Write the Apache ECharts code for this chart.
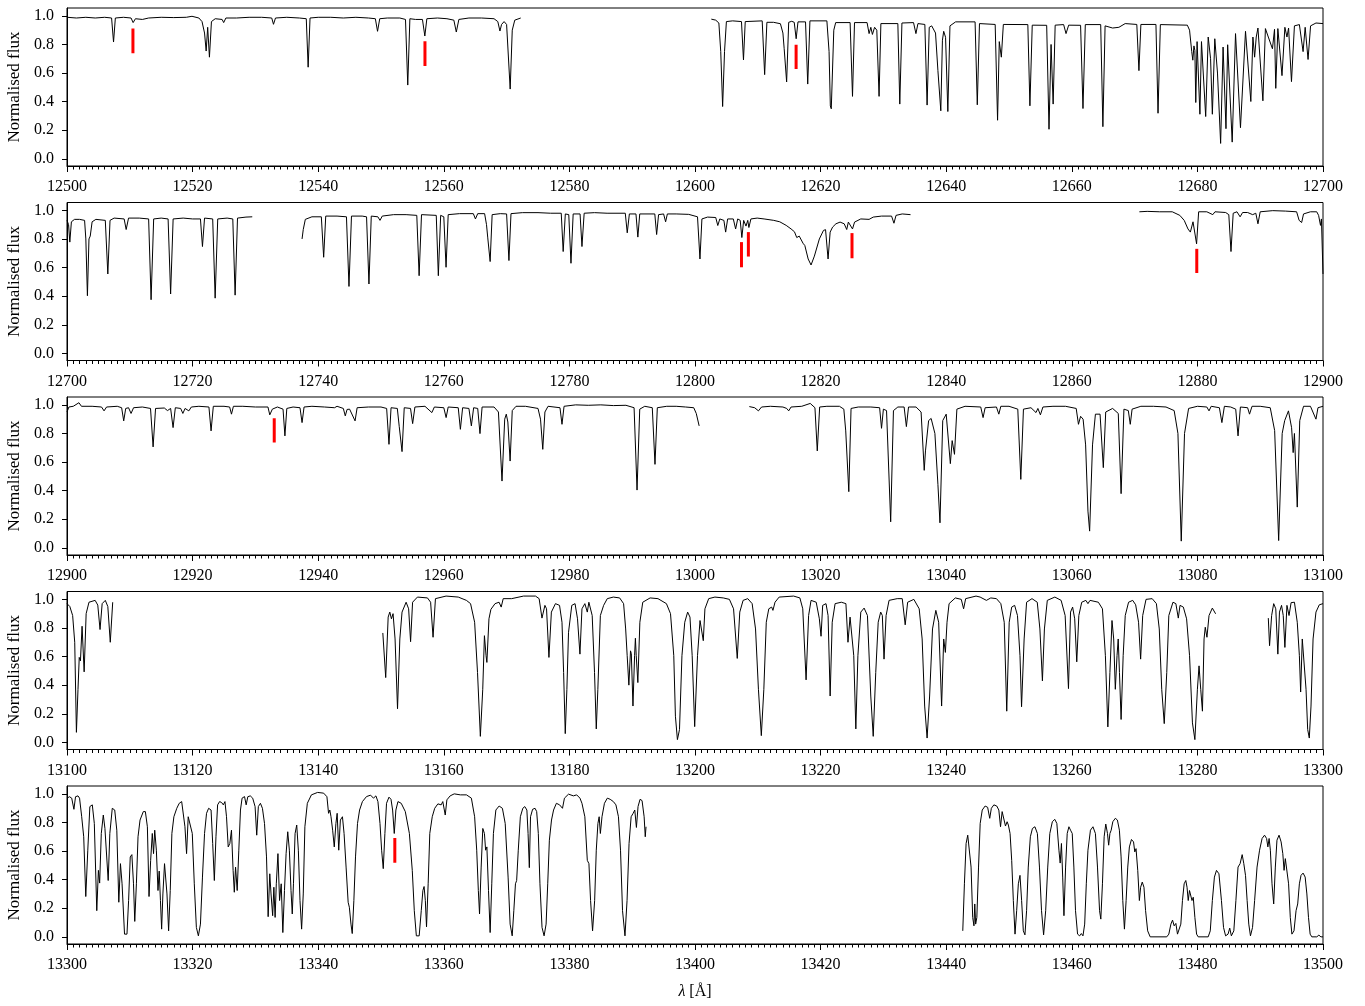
<!DOCTYPE html>
<html>
<head>
<meta charset="utf-8">
<script src="https://cdn.jsdelivr.net/npm/echarts@6/dist/echarts.min.js"></script>
<style>
html,body{margin:0;padding:0;background:#fff}
#chart{width:1365px;height:1006px}
</style>
</head>
<body>
<div id="chart"></div>
<script>
// Normalised spectrum, five wavelength windows of 200 Å each: [wavelength (Å), flux]

// 12500 - 12700
const spec1a = [[12500.0,0.99],[12501.5,0.985],[12503,0.99],[12504.5,0.985],[12506,0.99],[12507.1,0.985],[12507.41,0.817],[12507.7,0.985],[12509,0.99],[12510.2,0.985],[12510.53,0.953],[12510.9,0.98],[12512,0.975],[12513,0.985],[12515,0.99],[12517,0.988],[12519,0.99],[12519.9,0.997],[12521.0,0.985],[12521.5,0.96],[12521.9,0.88],[12522.16,0.754],[12522.4,0.92],[12522.68,0.711],[12523.0,0.96],[12523.6,0.98],[12524.7,0.975],[12524.95,0.953],[12525.3,0.985],[12527,0.985],[12529,0.99],[12531,0.99],[12532.6,0.985],[12532.88,0.941],[12533.2,0.985],[12535,0.99],[12537,0.985],[12538.1,0.98],[12538.4,0.641],[12538.7,0.985],[12540,0.99],[12542,0.99],[12544,0.985],[12546,0.99],[12548,0.985],[12549.1,0.98],[12549.45,0.892],[12549.8,0.98],[12551,0.985],[12553,0.985],[12553.9,0.975],[12554.26,0.516],[12554.6,0.98],[12555.5,0.975],[12556.6,0.975],[12556.98,0.859],[12557.3,0.98],[12559,0.985],[12560.5,0.98],[12561.6,0.97],[12561.99,0.887],[12562.4,0.975],[12564,0.985],[12566,0.985],[12568.0,0.98],[12568.6,0.96],[12568.94,0.894],[12569.2,0.94],[12569.6,0.96],[12570.0,0.94],[12570.57,0.488],[12570.9,0.9],[12571.3,0.97],[12572.25,0.985]];
const spec1b = [[12602.6,0.977],[12603.3,0.97],[12603.8,0.95],[12604.1,0.75],[12604.4,0.366],[12604.7,0.75],[12605.0,0.96],[12606,0.965],[12607.4,0.96],[12607.72,0.692],[12608.0,0.96],[12610.7,0.965],[12611.09,0.589],[12611.45,0.955],[12612.5,0.955],[12613.6,0.945],[12614.0,0.88],[12614.2,0.77],[12614.59,0.538],[12614.92,0.955],[12615.4,0.962],[12615.8,0.955],[12616.11,0.84],[12616.4,0.958],[12617.6,0.958],[12617.95,0.523],[12618.3,0.965],[12621.0,0.965],[12621.35,0.75],[12621.55,0.37],[12621.7,0.35],[12621.78,0.343],[12622.1,0.9],[12622.4,0.953],[12624.7,0.953],[12625.08,0.437],[12625.4,0.953],[12627.4,0.953],[12627.72,0.876],[12628.0,0.92],[12628.25,0.87],[12628.6,0.92],[12628.95,0.9],[12629.31,0.437],[12629.6,0.946],[12632.3,0.946],[12632.61,0.383],[12632.95,0.95],[12634.8,0.953],[12635.18,0.876],[12635.5,0.946],[12636.6,0.94],[12636.96,0.376],[12637.3,0.92],[12637.69,0.93],[12638.3,0.88],[12638.68,0.617],[12639.14,0.336],[12639.4,0.83],[12639.6,0.892],[12639.9,0.85],[12640.26,0.331],[12640.6,0.93],[12641.5,0.958],[12644.6,0.958],[12644.95,0.378],[12645.3,0.946],[12647.8,0.94],[12648.18,0.27],[12648.45,0.82],[12648.58,0.83],[12648.78,0.711],[12649.1,0.94],[12653.0,0.939],[12653.33,0.371],[12653.7,0.935],[12656.0,0.934],[12656.37,0.207],[12656.7,0.80],[12656.83,0.798],[12657.03,0.383],[12657.35,0.935],[12658.7,0.939],[12659.08,0.876],[12659.5,0.935],[12661.4,0.934],[12661.78,0.352],[12662.15,0.939],[12664.6,0.939],[12664.95,0.225],[12665.3,0.93],[12666.5,0.915],[12667.5,0.92],[12668.5,0.946],[12670.35,0.94],[12670.69,0.617],[12671.0,0.94],[12673.4,0.94],[12673.73,0.319],[12674.1,0.939],[12678.4,0.935],[12678.75,0.90],[12679.1,0.75],[12679.27,0.69],[12679.45,0.79],[12679.6,0.758],[12679.74,0.394],[12679.95,0.82],[12680.13,0.829],[12680.4,0.312],[12680.65,0.82],[12680.86,0.822],[12681.32,0.296],[12681.72,0.852],[12682.1,0.7],[12682.38,0.312],[12682.77,0.84],[12683.2,0.6],[12683.7,0.108],[12684.09,0.782],[12684.55,0.211],[12684.82,0.798],[12685.54,0.117],[12686.07,0.876],[12686.86,0.218],[12687.66,0.892],[12688.51,0.401],[12688.84,0.852],[12689.11,0.711],[12689.37,0.852],[12689.64,0.915],[12690.43,0.406],[12690.83,0.911],[12691.29,0.852],[12691.95,0.770],[12692.28,0.906],[12692.48,0.493],[12692.81,0.911],[12693.47,0.582],[12693.93,0.92],[12694.26,0.852],[12694.52,0.915],[12694.98,0.540],[12695.45,0.93],[12696.24,0.939],[12696.83,0.75],[12697.16,0.92],[12697.62,0.695],[12698.02,0.93],[12698.88,0.95],[12700.0,0.946]];

// 12700 - 12900
const spec2a = [[12700.0,0.93],[12700.25,0.9],[12700.45,0.778],[12700.7,0.92],[12701.2,0.937],[12702.0,0.937],[12702.8,0.93],[12703.0,0.8],[12703.25,0.403],[12703.5,0.8],[12703.7,0.82],[12704.0,0.92],[12704.6,0.937],[12706.1,0.93],[12706.5,0.555],[12706.85,0.93],[12707.5,0.946],[12709.1,0.94],[12709.42,0.866],[12709.8,0.946],[12711.5,0.946],[12713.0,0.94],[12713.39,0.375],[12713.8,0.94],[12715,0.946],[12716.1,0.94],[12716.5,0.415],[12716.9,0.94],[12718.5,0.946],[12720,0.94],[12721.25,0.94],[12721.57,0.747],[12721.9,0.946],[12723.2,0.94],[12723.59,0.386],[12724.0,0.94],[12725.5,0.946],[12726.4,0.94],[12726.77,0.407],[12727.15,0.946],[12728.5,0.953],[12729.5,0.955]];
const spec2b = [[12737.43,0.80],[12737.62,0.866],[12737.95,0.937],[12739.0,0.955],[12740.5,0.955],[12740.87,0.672],[12741.2,0.96],[12743,0.96],[12744.5,0.955],[12744.9,0.468],[12745.3,0.96],[12747,0.96],[12747.7,0.955],[12748.08,0.485],[12748.45,0.96],[12749.5,0.955],[12749.84,0.93],[12750.2,0.96],[12752,0.97],[12754,0.97],[12755.7,0.965],[12756.07,0.543],[12756.45,0.97],[12758.8,0.965],[12759.13,0.543],[12759.5,0.965],[12760.0,0.955],[12760.36,0.602],[12760.7,0.97],[12762.5,0.977],[12764.7,0.977],[12765.04,0.94],[12765.4,0.977],[12766.5,0.977],[12766.8,0.9],[12766.99,0.813],[12767.15,0.82],[12767.38,0.642],[12767.7,0.97],[12769,0.977],[12770.0,0.975],[12770.37,0.649],[12770.7,0.977],[12772.5,0.984],[12775,0.984],[12777,0.98],[12778.7,0.98],[12779.01,0.712],[12779.35,0.975],[12779.9,0.97],[12780.25,0.63],[12780.6,0.975],[12781.7,0.975],[12782.0,0.747],[12782.35,0.98],[12784,0.984],[12786,0.98],[12788.9,0.98],[12789.21,0.843],[12789.55,0.975],[12790.6,0.975],[12790.9,0.813],[12791.2,0.975],[12793.6,0.975],[12793.89,0.831],[12794.2,0.97],[12795.0,0.975],[12795.32,0.92],[12795.6,0.975],[12797,0.975],[12799,0.972],[12800.4,0.955],[12800.79,0.66],[12801.1,0.94],[12802,0.953],[12803.3,0.95],[12803.63,0.894],[12803.95,0.94],[12804.16,0.953],[12804.6,0.93],[12804.88,0.848],[12805.2,0.94],[12806.1,0.94],[12806.47,0.87],[12806.8,0.94],[12807.2,0.93],[12807.46,0.81],[12807.75,0.93],[12808.12,0.89],[12808.4,0.93],[12808.58,0.88],[12808.9,0.94],[12809.9,0.946],[12811,0.94],[12812.54,0.93],[12813.5,0.92],[12814.52,0.895],[12815.3,0.87],[12815.84,0.85],[12816.2,0.81],[12816.37,0.80],[12816.6,0.82],[12816.83,0.812],[12817.2,0.77],[12817.49,0.754],[12818.02,0.66],[12818.48,0.618],[12819.01,0.68],[12819.8,0.80],[12820.46,0.86],[12820.79,0.865],[12821.19,0.66],[12821.52,0.848],[12821.91,0.883],[12822.44,0.906],[12823.1,0.918],[12823.76,0.906],[12824.16,0.866],[12824.42,0.918],[12825.08,0.87],[12825.41,0.918],[12826.4,0.94],[12827.72,0.937],[12828.38,0.953],[12829.7,0.96],[12831.3,0.96],[12831.68,0.91],[12832.01,0.965],[12833.0,0.975],[12834.32,0.97]];
const spec2c = [[12870.76,0.99],[12872,0.993],[12874,0.99],[12876,0.99],[12877.2,0.965],[12877.9,0.93],[12878.5,0.87],[12878.88,0.848],[12879.3,0.92],[12879.6,0.93],[12879.87,0.766],[12880.2,0.99],[12881.5,0.99],[12882.45,0.97],[12882.8,0.99],[12884.5,0.985],[12885.0,0.97],[12885.35,0.712],[12885.7,0.98],[12886.3,0.99],[12886.8,0.955],[12887.2,0.985],[12888.0,0.985],[12888.8,0.97],[12889.3,0.98],[12889.64,0.906],[12890.0,0.99],[12892,0.998],[12894,0.995],[12895.8,0.99],[12896.2,0.93],[12896.37,0.918],[12896.6,0.915],[12896.9,0.975],[12898,0.99],[12899.0,0.99],[12899.3,0.965],[12899.6,0.895],[12899.75,0.94],[12900.0,0.555]];

// 12900 - 13100
const spec3a = [[12900.0,0.95],[12900.3,0.985],[12901,0.99],[12901.9,1.015],[12902.3,0.99],[12904,0.99],[12905.5,0.985],[12905.9,0.958],[12906.3,0.985],[12908,0.99],[12908.7,0.98],[12909.03,0.888],[12909.35,0.975],[12909.8,0.98],[12910.2,0.94],[12910.6,0.98],[12912,0.985],[12913.3,0.975],[12913.71,0.706],[12914.1,0.975],[12915.5,0.978],[12916.0,0.96],[12916.5,0.975],[12916.89,0.841],[12917.25,0.98],[12918.1,0.975],[12918.45,0.94],[12918.8,0.975],[12919.4,0.958],[12919.8,0.985],[12921,0.99],[12922.6,0.985],[12922.94,0.818],[12923.3,0.99],[12925,0.99],[12925.9,0.985],[12926.19,0.935],[12926.5,0.99],[12928,0.99],[12930,0.985],[12932.0,0.985],[12932.29,0.93],[12932.7,0.97],[12933.5,0.985],[12934.4,0.97],[12934.7,0.783],[12935.0,0.975],[12936.0,0.985],[12937.1,0.98],[12937.43,0.876],[12937.75,0.985],[12939,0.99],[12941,0.985],[12942.6,0.98],[12943,0.99],[12944.0,0.975],[12944.31,0.923],[12944.6,0.968],[12945.0,0.97],[12945.87,0.888],[12946.2,0.98],[12948,0.985],[12950,0.985],[12950.9,0.975],[12951.27,0.724],[12951.6,0.98],[12952.6,0.975],[12952.9,0.85],[12953.1,0.85],[12953.35,0.673],[12953.7,0.98],[12954.7,0.975],[12955.04,0.869],[12955.4,0.985],[12957,0.99],[12958.1,0.946],[12958.5,0.985],[12960.0,0.98],[12960.37,0.911],[12960.7,0.985],[12962.3,0.98],[12962.64,0.829],[12963.0,0.98],[12964.0,0.975],[12964.39,0.853],[12964.75,0.98],[12965.4,0.975],[12965.76,0.799],[12966.1,0.985],[12968,0.985],[12968.7,0.95],[12969.27,0.467],[12969.7,0.9],[12969.95,0.935],[12970.2,0.88],[12970.56,0.607],[12970.9,0.96],[12971.5,0.99],[12973,0.99],[12975.0,0.975],[12975.4,0.9],[12975.76,0.689],[12976.1,0.95],[12976.6,0.99],[12978.5,0.98],[12978.82,0.864],[12979.15,0.99],[12981,1.0],[12983,0.997],[12985,1.0],[12987,0.995],[12989,0.997],[12990.3,0.98],[12990.77,0.404],[12991.2,0.97],[12992,0.99],[12993.2,0.98],[12993.63,0.584],[12994.0,0.98],[12995.5,0.99],[12997,0.99],[12998.5,0.985],[12999.8,0.98],[13000.2,0.94],[13000.66,0.853]];
const spec3b = [[13008.65,0.988],[13009.5,0.98],[13010.1,0.958],[13010.6,0.985],[13012,0.99],[13014,0.985],[13014.6,0.975],[13014.92,0.958],[13015.3,0.985],[13017,0.99],[13018.35,1.01],[13019.1,0.98],[13019.47,0.678],[13019.85,0.985],[13021,0.99],[13023,0.99],[13023.7,0.97],[13024.0,0.818],[13024.15,0.82],[13024.49,0.393],[13024.85,0.975],[13026,0.985],[13028,0.985],[13029.4,0.98],[13029.7,0.836],[13030.0,0.97],[13030.5,0.96],[13031.16,0.182],[13031.6,0.96],[13032.3,0.985],[13033.3,0.985],[13033.66,0.848],[13034.0,0.985],[13035.2,0.985],[13036.0,0.95],[13036.5,0.542],[13036.7,0.678],[13036.83,0.678],[13037.2,0.89],[13037.6,0.905],[13038.2,0.8],[13038.68,0.444],[13039.01,0.175],[13039.45,0.89],[13040.0,0.935],[13040.66,0.589],[13040.95,0.75],[13041.32,0.654],[13041.7,0.97],[13043,0.99],[13045.5,0.985],[13045.87,0.911],[13046.2,0.98],[13048.0,0.985],[13048.38,0.935],[13048.7,0.99],[13050,0.99],[13051.4,0.97],[13051.88,0.479],[13052.3,0.97],[13053.5,0.98],[13054.3,0.946],[13054.6,0.975],[13055.0,0.93],[13055.4,0.985],[13057,0.99],[13059,0.99],[13060.7,0.975],[13061.06,0.864],[13061.4,0.92],[13061.8,0.90],[13062.2,0.72],[13062.57,0.257],[13062.84,0.117],[13063.3,0.72],[13063.76,0.935],[13064.5,0.935],[13065.02,0.561],[13065.4,0.95],[13066.5,0.975],[13067.4,0.94],[13067.85,0.379],[13068.3,0.97],[13069.0,0.96],[13069.31,0.864],[13069.6,0.97],[13071,0.99],[13073,0.99],[13075,0.985],[13076.3,0.96],[13076.9,0.8],[13077.43,0.047],[13077.95,0.8],[13078.6,0.975],[13080,0.99],[13081.5,0.985],[13081.85,0.958],[13082.2,0.99],[13083.5,0.98],[13083.9,0.876],[13084.3,0.99],[13085.3,0.985],[13086.1,0.97],[13086.47,0.783],[13086.85,0.985],[13088.0,0.98],[13088.3,0.935],[13088.7,0.99],[13090,0.99],[13091.6,0.98],[13092.3,0.82],[13092.94,0.051],[13093.5,0.8],[13093.9,0.89],[13094.5,0.958],[13095.0,0.84],[13095.25,0.666],[13095.45,0.80],[13095.9,0.285],[13096.3,0.89],[13096.9,0.99],[13098.0,0.99],[13098.88,0.9],[13099.2,0.98],[13100.0,0.99]];

// 13100 - 13300
const spec4a = [[13100.0,0.97],[13100.45,0.95],[13100.9,0.887],[13101.23,0.70],[13101.5,0.07],[13101.75,0.37],[13101.95,0.594],[13102.14,0.57],[13102.4,0.812],[13102.73,0.493],[13103.05,0.90],[13103.5,0.98],[13104.48,0.993],[13104.9,0.96],[13105.26,0.789],[13105.6,0.97],[13106.1,0.993],[13106.5,0.95],[13106.89,0.70],[13107.28,0.98]];
const spec4b = [[13150.29,0.765],[13150.75,0.453],[13151.14,0.876],[13151.4,0.911],[13151.66,0.864],[13151.92,0.90],[13152.24,0.723],[13152.63,0.235],[13153.0,0.723],[13153.35,0.911],[13154.0,0.98],[13154.4,0.934],[13154.71,0.704],[13155.03,0.98],[13155.8,1.016],[13157.4,1.01],[13157.9,0.98],[13158.29,0.735],[13158.67,1.005],[13160.36,1.023],[13162.3,1.016],[13163.6,0.993],[13164.26,0.97],[13164.91,0.84],[13165.37,0.488],[13165.82,0.042],[13166.2,0.371],[13166.47,0.746],[13166.73,0.606],[13166.86,0.559],[13167.19,0.864],[13167.5,0.93],[13168.16,0.97],[13168.8,0.98],[13169.14,0.946],[13169.46,1.005],[13170.8,1.005],[13172.7,1.023],[13174.6,1.023],[13175.18,1.005],[13175.63,0.869],[13176.1,0.958],[13176.36,0.934],[13176.74,0.594],[13177.13,0.911],[13177.78,0.97],[13178.43,0.958],[13178.82,0.84],[13179.08,0.488],[13179.34,0.061],[13179.6,0.371],[13179.86,0.77],[13180.38,0.958],[13180.9,0.97],[13181.29,0.864],[13181.68,0.617],[13182.0,0.934],[13182.46,0.97],[13182.85,0.911],[13183.1,0.98],[13183.63,0.887],[13184.0,0.488],[13184.28,0.094],[13184.53,0.371],[13184.93,0.887],[13185.45,0.958],[13186.03,1.005],[13187.0,1.016],[13188.0,1.01],[13188.63,0.97],[13188.96,0.793],[13189.2,0.606],[13189.47,0.40],[13189.73,0.64],[13189.86,0.62],[13190.12,0.254],[13190.38,0.606],[13190.51,0.728],[13190.64,0.606],[13190.9,0.418],[13191.22,0.84],[13191.68,0.98],[13192.85,1.01],[13194.1,1.005],[13195.45,0.97],[13196.1,0.90],[13196.62,0.606],[13196.88,0.183],[13197.2,0.019],[13197.53,0.089],[13197.92,0.606],[13198.37,0.84],[13198.83,0.911],[13199.2,0.876],[13199.55,0.606],[13199.95,0.11],[13200.4,0.606],[13200.8,0.852],[13201.05,0.864],[13201.32,0.711],[13201.58,0.934],[13202.18,1.005],[13203.17,1.016],[13204.5,1.01],[13205.48,1.0],[13206.14,0.934],[13206.73,0.587],[13207.13,0.911],[13207.66,0.993],[13208.4,1.005],[13209.1,0.97],[13209.64,0.793],[13210.1,0.371],[13210.56,0.047],[13210.96,0.371],[13211.35,0.84],[13211.75,0.934],[13212.21,0.946],[13212.41,0.923],[13212.74,0.98],[13213.4,1.016],[13215.7,1.023],[13216.7,1.01],[13217.16,0.934],[13217.69,0.437],[13218.09,0.887],[13218.48,0.993],[13219.3,0.98],[13219.8,0.864],[13220.07,0.742],[13220.33,0.958],[13220.86,0.97],[13221.19,0.887],[13221.52,0.324],[13221.85,0.84],[13222.31,0.97],[13223.3,0.98],[13224.03,0.97],[13224.36,0.70],[13224.69,0.876],[13224.95,0.864],[13225.28,0.606],[13225.61,0.094],[13225.94,0.606],[13226.4,0.911],[13226.93,0.939],[13227.46,0.887],[13227.99,0.324],[13228.38,0.042],[13228.78,0.488],[13229.17,0.84],[13229.57,0.911],[13229.83,0.887],[13230.1,0.582],[13230.43,0.887],[13230.9,0.993],[13232.2,1.005],[13233.0,1.005],[13233.47,0.822],[13233.86,0.98],[13234.85,1.0],[13235.7,0.934],[13236.17,0.723],[13236.57,0.254],[13236.96,0.03],[13237.36,0.324],[13237.82,0.793],[13238.35,0.923],[13238.8,0.84],[13239.27,0.254],[13239.6,0.723],[13239.87,0.629],[13240.13,0.84],[13240.46,0.97],[13241.45,1.01],[13242.4,1.0],[13242.77,0.934],[13243.1,1.005],[13244.75,1.023],[13245.4,1.016],[13246.4,0.993],[13247.1,1.01],[13248.0,1.005],[13248.7,0.97],[13249.24,0.84],[13249.64,0.218],[13250.03,0.84],[13250.43,0.946],[13250.9,0.958],[13251.35,0.887],[13251.75,0.606],[13252.0,0.249],[13252.41,0.723],[13252.8,0.98],[13253.66,1.005],[13254.5,0.98],[13254.92,0.793],[13255.32,0.43],[13255.64,0.793],[13256.1,0.993],[13257.3,1.016],[13258.3,0.993],[13258.94,0.887],[13259.47,0.376],[13259.8,0.911],[13260.13,0.946],[13260.46,0.864],[13260.79,0.563],[13261.12,0.887],[13261.58,0.98],[13262.24,0.993],[13262.57,0.97],[13262.9,0.993],[13264.23,0.98],[13264.88,0.934],[13265.35,0.606],[13265.74,0.108],[13266.07,0.488],[13266.4,0.852],[13266.67,0.723],[13266.93,0.371],[13267.2,0.606],[13267.39,0.723],[13267.59,0.488],[13267.85,0.16],[13268.18,0.606],[13268.51,0.887],[13269.04,0.98],[13269.7,0.993],[13270.17,0.962],[13270.63,0.84],[13270.96,0.582],[13271.29,0.887],[13271.82,1.0],[13272.8,1.005],[13273.47,0.97],[13273.93,0.793],[13274.32,0.371],[13274.72,0.131],[13275.12,0.488],[13275.45,0.887],[13276.11,0.98],[13276.57,0.97],[13276.96,0.869],[13277.23,0.958],[13277.76,0.946],[13278.28,0.864],[13278.75,0.606],[13279.21,0.136],[13279.6,0.019],[13280.0,0.371],[13280.26,0.535],[13280.53,0.371],[13280.8,0.218],[13281.06,0.723],[13281.25,0.805],[13281.52,0.735],[13281.85,0.887],[13282.38,0.939],[13282.9,0.899]];
const spec4c = [[13291.29,0.869],[13291.49,0.676],[13291.82,0.887],[13292.15,0.97],[13292.48,0.934],[13292.81,0.617],[13293.07,0.911],[13293.4,0.958],[13293.67,0.887],[13293.93,0.664],[13294.26,0.958],[13294.59,0.887],[13294.92,0.977],[13295.45,0.98],[13295.9,0.84],[13296.24,0.606],[13296.44,0.352],[13296.7,0.723],[13296.96,0.735],[13297.3,0.371],[13297.56,0.089],[13297.82,0.03],[13298.09,0.254],[13298.42,0.723],[13298.88,0.911],[13299.41,0.962],[13300.0,0.97]];

// 13300 - 13500
const spec5a = [[13300.0,0.97],[13300.4,0.98],[13300.75,0.97],[13301.1,0.892],[13301.36,0.98],[13301.75,0.986],[13302.0,0.97],[13302.34,0.84],[13302.66,0.70],[13302.99,0.282],[13303.31,0.606],[13303.64,0.911],[13304.03,0.923],[13304.35,0.793],[13304.74,0.183],[13305.0,0.465],[13305.2,0.376],[13305.46,0.723],[13305.78,0.852],[13306.04,0.758],[13306.3,0.746],[13306.56,0.394],[13306.82,0.723],[13307.21,0.899],[13307.6,0.887],[13307.93,0.746],[13308.25,0.242],[13308.51,0.512],[13308.77,0.371],[13309.16,0.019],[13309.55,0.019],[13309.81,0.254],[13310.07,0.559],[13310.33,0.575],[13310.59,0.371],[13310.79,0.108],[13311.05,0.371],[13311.31,0.70],[13311.63,0.817],[13312.15,0.876],[13312.48,0.876],[13312.8,0.77],[13313.06,0.282],[13313.32,0.535],[13313.58,0.723],[13313.78,0.582],[13313.97,0.746],[13314.23,0.606],[13314.49,0.324],[13314.68,0.46],[13314.88,0.254],[13315.07,0.054],[13315.27,0.30],[13315.53,0.512],[13315.72,0.523],[13315.92,0.30],[13316.18,0.042],[13316.44,0.324],[13316.7,0.723],[13317.02,0.84],[13317.48,0.899],[13317.87,0.934],[13318.26,0.946],[13318.52,0.934],[13318.78,0.77],[13319.04,0.582],[13319.3,0.84],[13319.56,0.852],[13319.95,0.723],[13320.27,0.371],[13320.6,0.066],[13320.92,0.007],[13321.25,0.089],[13321.57,0.418],[13321.9,0.723],[13322.22,0.864],[13322.55,0.899],[13322.94,0.887],[13323.2,0.653],[13323.46,0.394],[13323.72,0.70],[13323.98,0.923],[13324.3,0.946],[13324.63,0.939],[13324.89,0.923],[13325.15,0.946],[13325.4,0.84],[13325.67,0.629],[13325.93,0.653],[13326.19,0.746],[13326.45,0.465],[13326.64,0.312],[13326.84,0.488],[13327.1,0.324],[13327.36,0.606],[13327.62,0.887],[13327.88,0.97],[13328.27,0.981],[13328.53,0.923],[13328.79,0.98],[13329.18,0.986],[13329.57,0.97],[13329.95,0.911],[13330.21,0.711],[13330.47,0.911],[13330.8,0.934],[13331.12,0.899],[13331.45,0.793],[13331.77,0.559],[13332.03,0.141],[13332.29,0.441],[13332.49,0.30],[13332.75,0.148],[13332.94,0.347],[13333.14,0.136],[13333.33,0.371],[13333.59,0.582],[13333.85,0.254],[13334.11,0.371],[13334.37,0.03],[13334.63,0.324],[13334.89,0.582],[13335.15,0.735],[13335.41,0.606],[13335.67,0.324],[13335.87,0.16],[13336.06,0.371],[13336.32,0.723],[13336.58,0.782],[13336.84,0.606],[13337.1,0.254],[13337.36,0.054],[13337.62,0.30],[13337.88,0.77],[13338.27,0.934],[13338.92,0.993],[13339.9,1.01],[13340.87,1.005],[13341.39,0.98],[13341.65,0.864],[13341.85,0.887],[13342.04,0.84],[13342.3,0.746],[13342.56,0.629],[13342.82,0.793],[13343.02,0.864],[13343.27,0.606],[13343.53,0.817],[13343.86,0.84],[13344.12,0.723],[13344.44,0.488],[13344.77,0.242],[13344.96,0.207],[13345.22,0.089],[13345.42,0.023],[13345.68,0.254],[13345.94,0.559],[13346.26,0.793],[13346.59,0.887],[13347.04,0.946],[13347.69,0.981],[13348.34,0.991],[13348.8,0.97],[13349.19,0.986],[13349.51,0.946],[13349.84,0.793],[13350.1,0.606],[13350.36,0.477],[13350.62,0.723],[13350.88,0.934],[13351.27,0.977],[13351.59,0.962],[13351.85,0.887],[13352.11,0.723],[13352.37,0.887],[13352.7,0.946],[13353.22,0.934],[13353.87,0.876],[13354.52,0.723],[13354.98,0.465],[13355.3,0.183],[13355.63,0.007],[13356.08,0.007],[13356.41,0.183],[13356.67,0.324],[13356.86,0.352],[13357.06,0.254],[13357.25,0.07],[13357.51,0.371],[13357.77,0.723],[13358.16,0.84],[13358.55,0.899],[13359.06,0.93],[13359.58,0.923],[13359.84,0.946],[13360.23,0.852],[13360.49,0.958],[13361.01,0.986],[13361.66,1.0],[13362.64,0.993],[13363.61,0.993],[13364.39,0.97],[13364.91,0.84],[13365.24,0.606],[13365.5,0.324],[13365.69,0.16],[13365.95,0.488],[13366.21,0.758],[13366.47,0.723],[13366.66,0.606],[13366.86,0.629],[13367.12,0.324],[13367.38,0.03],[13367.64,0.371],[13367.9,0.723],[13368.29,0.887],[13368.81,0.915],[13369.33,0.899],[13369.78,0.793],[13370.24,0.418],[13370.56,0.089],[13370.89,0.007],[13371.15,0.183],[13371.41,0.371],[13371.6,0.394],[13371.86,0.606],[13372.19,0.84],[13372.58,0.899],[13372.9,0.911],[13373.23,0.887],[13373.42,0.723],[13373.62,0.484],[13373.81,0.84],[13374.14,0.892],[13374.53,0.899],[13374.79,0.876],[13375.05,0.723],[13375.31,0.371],[13375.64,0.066],[13375.97,0.007],[13376.29,0.089],[13376.55,0.371],[13376.81,0.676],[13377.15,0.817],[13377.48,0.887],[13377.93,0.934],[13378.44,0.923],[13378.9,0.899],[13379.21,0.97],[13379.86,0.998],[13380.64,0.986],[13381.16,0.993],[13381.68,0.97],[13382.0,0.934],[13382.46,0.84],[13382.85,0.535],[13383.11,0.512],[13383.37,0.254],[13383.69,0.042],[13384.02,0.254],[13384.28,0.606],[13384.54,0.793],[13384.74,0.84],[13384.93,0.723],[13385.19,0.84],[13385.58,0.934],[13386.04,0.97],[13386.49,0.962],[13387.0,0.946],[13387.41,0.923],[13387.81,0.84],[13388.14,0.606],[13388.46,0.183],[13388.85,0.007],[13389.18,0.254],[13389.5,0.653],[13389.83,0.84],[13390.15,0.864],[13390.41,0.887],[13390.67,0.765],[13390.93,0.911],[13391.25,0.962],[13391.57,0.953],[13391.9,0.84],[13392.08,0.70],[13392.2,0.77]];
const spec5b = [[13442.64,0.042],[13442.9,0.371],[13443.17,0.653],[13443.43,0.711],[13443.7,0.723],[13443.96,0.488],[13444.22,0.136],[13444.42,0.077],[13444.55,0.23],[13444.69,0.089],[13444.88,0.136],[13445.15,0.488],[13445.41,0.793],[13445.74,0.887],[13446.2,0.915],[13446.6,0.906],[13446.93,0.829],[13447.19,0.899],[13447.59,0.923],[13448.05,0.915],[13448.38,0.887],[13448.65,0.77],[13448.91,0.876],[13449.17,0.887],[13449.44,0.775],[13449.7,0.805],[13449.9,0.782],[13450.17,0.723],[13450.43,0.535],[13450.69,0.254],[13450.96,0.019],[13451.22,0.183],[13451.49,0.371],[13451.75,0.43],[13452.01,0.254],[13452.28,0.042],[13452.54,0.014],[13452.8,0.183],[13453.07,0.488],[13453.4,0.70],[13453.73,0.758],[13454.13,0.77],[13454.52,0.723],[13454.85,0.488],[13455.18,0.183],[13455.51,0.014],[13455.84,0.183],[13456.17,0.488],[13456.5,0.723],[13456.9,0.805],[13457.29,0.822],[13457.62,0.793],[13457.95,0.606],[13458.15,0.516],[13458.35,0.653],[13458.55,0.418],[13458.75,0.148],[13459.01,0.488],[13459.27,0.723],[13459.54,0.77],[13459.8,0.746],[13460.07,0.723],[13460.33,0.488],[13460.59,0.183],[13460.92,0.019],[13461.25,0.007],[13461.52,0.023],[13461.78,0.007],[13462.05,0.089],[13462.31,0.371],[13462.57,0.606],[13462.97,0.746],[13463.37,0.77],[13463.76,0.723],[13464.09,0.488],[13464.42,0.183],[13464.62,0.124],[13464.88,0.371],[13465.15,0.70],[13465.41,0.789],[13465.68,0.723],[13465.87,0.641],[13466.07,0.723],[13466.27,0.746],[13466.53,0.805],[13466.93,0.829],[13467.26,0.817],[13467.58,0.746],[13467.85,0.559],[13468.12,0.254],[13468.38,0.054],[13468.65,0.254],[13468.91,0.488],[13469.17,0.629],[13469.5,0.681],[13469.83,0.664],[13470.03,0.594],[13470.23,0.617],[13470.5,0.465],[13470.76,0.254],[13470.96,0.347],[13471.22,0.383],[13471.49,0.347],[13471.75,0.183],[13472.08,0.042],[13472.48,0.0],[13475.12,0.0],[13475.45,0.019],[13475.78,0.089],[13476.04,0.117],[13476.3,0.077],[13476.57,0.094],[13476.83,0.019],[13477.1,0.007],[13477.36,0.089],[13477.62,0.254],[13477.89,0.371],[13478.15,0.394],[13478.35,0.347],[13478.54,0.254],[13478.74,0.324],[13478.94,0.329],[13479.14,0.254],[13479.34,0.277],[13479.6,0.136],[13479.87,0.019],[13480.13,0.0],[13481.72,0.0],[13482.05,0.042],[13482.38,0.254],[13482.71,0.418],[13483.04,0.465],[13483.43,0.441],[13483.83,0.254],[13484.16,0.066],[13484.49,0.007],[13484.88,0.019],[13485.15,0.061],[13485.41,0.007],[13485.8,0.042],[13486.13,0.254],[13486.47,0.488],[13486.8,0.512],[13487.13,0.575],[13487.39,0.512],[13487.66,0.43],[13487.92,0.254],[13488.18,0.089],[13488.45,0.007],[13488.78,0.066],[13489.11,0.254],[13489.5,0.488],[13489.9,0.606],[13490.3,0.688],[13490.69,0.711],[13491.02,0.688],[13491.22,0.629],[13491.42,0.688],[13491.62,0.606],[13491.88,0.371],[13492.15,0.23],[13492.41,0.488],[13492.67,0.676],[13493.0,0.711],[13493.33,0.664],[13493.6,0.582],[13493.8,0.465],[13494.0,0.547],[13494.26,0.547],[13494.52,0.371],[13494.79,0.136],[13495.05,0.019],[13495.38,0.042],[13495.71,0.183],[13495.97,0.23],[13496.24,0.371],[13496.5,0.43],[13496.83,0.446],[13497.16,0.418],[13497.43,0.30],[13497.69,0.136],[13497.95,0.019],[13498.22,0.0],[13499.01,0.0],[13499.34,0.012],[13499.67,0.0],[13500.0,0.0]];

// Identified lines: [wavelength, upper flux, lower flux]
const marks1 = [[12510.5,0.911,0.739],[12557.0,0.822,0.650],[12616.1,0.798,0.629]];
const marks2 = [[12807.4,0.778,0.602],[12808.5,0.848,0.677],[12825.0,0.841,0.665],[12879.9,0.731,0.562]];
const marks3 = [[12933.0,0.907,0.736]];
const marks4 = [];
const marks5 = [[13352.2,0.692,0.519]];

const windowStart = [12500, 12700, 12900, 13100, 13300];
const windowWidth = 200;
const fluxTicks = [0.0, 0.2, 0.4, 0.6, 0.8, 1.0];

const spectra = [[spec1a, spec1b], [spec2a, spec2b, spec2c], [spec3a, spec3b], [spec4a, spec4b, spec4c], [spec5a, spec5b]];
const marks = [marks1, marks2, marks3, marks4, marks5];

const FONT = '"Liberation Serif", "DejaVu Serif", serif';
const gridTop = [8, 202.5, 397, 591.5, 786];
const gridHeight = 158;

const grid = [], xAxis = [], yAxis = [], series = [];
windowStart.forEach((w0, i) => {
  grid.push({ left: 67, right: 42, top: gridTop[i], height: gridHeight, containLabel: false, outerBoundsMode: 'none',
    show: true, borderColor: '#000', borderWidth: 1, backgroundColor: 'transparent' });
  const last = i === windowStart.length - 1;
  xAxis.push({
    type: 'value', gridIndex: i, min: w0, max: w0 + windowWidth, interval: 20,
    axisLine: { show: true, onZero: false, lineStyle: { color: '#000', width: 1 } },
    axisTick: { show: true, inside: false, length: 6, lineStyle: { color: '#000', width: 1 } },
    minorTick: { show: true, splitNumber: 20, length: 3.5, lineStyle: { color: '#000', width: 1 } },
    splitLine: { show: false }, minorSplitLine: { show: false },
    axisLabel: { color: '#000', fontFamily: FONT, fontSize: 16, margin: 13, formatter: v => String(v) },
    name: last ? '{i|λ} [Å]' : '', nameLocation: 'middle', nameGap: 40,
    nameTextStyle: { color: '#000', fontFamily: FONT, fontSize: 16, rich: { i: { fontStyle: 'italic', fontFamily: FONT, fontSize: 16, color: '#000' } } }
  });
  yAxis.push({
    type: 'value', gridIndex: i, min: -0.05, max: 1.055,
    axisLine: { show: true, onZero: false, lineStyle: { color: '#000', width: 1 } },
    axisTick: { show: true, inside: false, length: 5, customValues: fluxTicks, lineStyle: { color: '#000', width: 1 } },
    splitLine: { show: false },
    axisLabel: { color: '#000', fontFamily: FONT, fontSize: 16, margin: 13, customValues: fluxTicks, formatter: v => Number(v).toFixed(1) },
    name: 'Normalised flux', nameLocation: 'middle', nameRotate: 90, nameGap: 44,
    nameTextStyle: { color: '#000', fontFamily: FONT, fontSize: 17 }
  });
  spectra[i].forEach(seg => {
    series.push({
      type: 'line', xAxisIndex: i, yAxisIndex: i, data: seg, showSymbol: false, symbol: 'none',
      lineStyle: { color: '#000', width: 1 }, silent: true, animation: false, clip: true
    });
  });
  marks[i].forEach(m => {
    series.push({
      type: 'line', xAxisIndex: i, yAxisIndex: i, data: [[m[0], m[1]], [m[0], m[2]]], showSymbol: false, symbol: 'none',
      lineStyle: { color: '#ff0000', width: 3, cap: 'butt' }, silent: true, animation: false, z: 3
    });
  });
});

const chart = echarts.init(document.getElementById('chart'), null, { renderer: 'canvas' });
chart.setOption({ backgroundColor: '#fff', animation: false, grid, xAxis, yAxis, series });
</script>
</body>
</html>
